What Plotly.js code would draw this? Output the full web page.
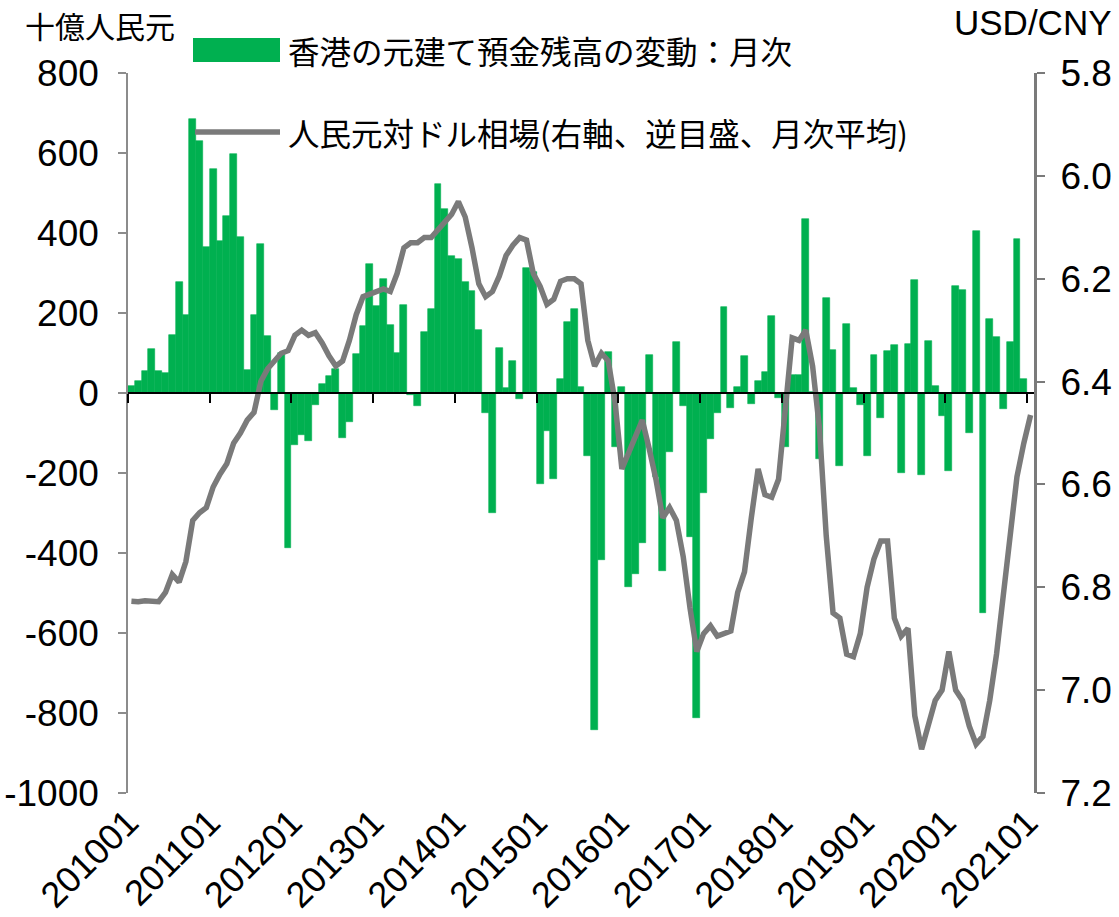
<!DOCTYPE html>
<html>
<head>
<meta charset="utf-8">
<script src="https://cdn.plot.ly/plotly-3.0.1.min.js"></script>
<style>html,body{margin:0;padding:0;background:#fff;}</style>
</head>
<body>
<div id="chart" style="width:1119px;height:917px;"></div>
<script>
// ---- data ----
const months = [
 '201001','201002','201003','201004','201005','201006','201007','201008','201009','201010','201011','201012',
 '201101','201102','201103','201104','201105','201106','201107','201108','201109','201110','201111','201112',
 '201201','201202','201203','201204','201205','201206','201207','201208','201209','201210','201211','201212',
 '201301','201302','201303','201304','201305','201306','201307','201308','201309','201310','201311','201312',
 '201401','201402','201403','201404','201405','201406','201407','201408','201409','201410','201411','201412',
 '201501','201502','201503','201504','201505','201506','201507','201508','201509','201510','201511','201512',
 '201601','201602','201603','201604','201605','201606','201607','201608','201609','201610','201611','201612',
 '201701','201702','201703','201704','201705','201706','201707','201708','201709','201710','201711','201712',
 '201801','201802','201803','201804','201805','201806','201807','201808','201809','201810','201811','201812',
 '201901','201902','201903','201904','201905','201906','201907','201908','201909','201910','201911','201912',
 '202001','202002','202003','202004','202005','202006','202007','202008','202009','202010','202011','202012',
 '202101'
];

// HK yuan deposit change, billion RMB (monthly)
const depositChange = [
  18, 29, 54, 110, 54, 50, 146, 277, 196, 685, 631, 364,
  561, 379, 443, 598, 389, 57, 196, 373, 142, -42, 100, -388,
  -129, -104, -121, -29, 23, 43, 60, -112, -72, 98, 167, 323,
  218, 286, 169, 100, 221, -5, -33, 152, 211, 523, 460, 342,
  335, 277, 256, 158, -50, -300, 112, 12, 81, -15, 312, 302,
  -227, -95, -215, 35, 177, 210, 15, -157, -842, -417, 102, -134,
  14, -486, -452, -374, 96, -210, -446, -147, 127, -33, -360, -812,
  -249, -115, -50, 214, -38, 16, 92, -27, 31, 53, 192, -12,
  -136, 44, 45, 436, 3, -165, 237, 108, -182, 172, 12, -31,
  -158, 96, -62, 105, 120, -200, 123, 283, -206, 130, 18, -57,
  -195, 267, 257, -99, 405, -549, 185, 139, -40, 128, 386, 34,
  null
];

// USD/CNY monthly average (right axis, reversed)
const usdCny = [
  6.827, 6.828, 6.826, 6.826, 6.828, 6.810, 6.775, 6.790, 6.750, 6.670, 6.655, 6.645,
  6.605, 6.580, 6.560, 6.520, 6.500, 6.475, 6.460, 6.400, 6.375, 6.360, 6.345, 6.340,
  6.310, 6.300, 6.310, 6.305, 6.325, 6.350, 6.370, 6.360, 6.320, 6.270, 6.235, 6.230,
  6.225, 6.220, 6.225, 6.190, 6.140, 6.130, 6.130, 6.120, 6.120, 6.105, 6.090, 6.075,
  6.050, 6.080, 6.140, 6.210, 6.235, 6.225, 6.195, 6.155, 6.135, 6.120, 6.125, 6.190,
  6.215, 6.250, 6.240, 6.205, 6.200, 6.200, 6.210, 6.320, 6.370, 6.345, 6.360, 6.440,
  6.570, 6.540, 6.510, 6.475, 6.530, 6.590, 6.665, 6.645, 6.670, 6.740, 6.840, 6.925,
  6.890, 6.875, 6.895, 6.890, 6.885, 6.810, 6.770, 6.665, 6.570, 6.620, 6.625, 6.590,
  6.440, 6.315, 6.320, 6.300, 6.370, 6.490, 6.700, 6.850, 6.860, 6.930, 6.935, 6.890,
  6.800, 6.745, 6.710, 6.710, 6.860, 6.895, 6.880, 7.050, 7.115, 7.070, 7.020, 7.000,
  6.925, 7.000, 7.020, 7.070, 7.105, 7.090, 7.020, 6.930, 6.820, 6.690, 6.585, 6.520,
  6.465
];

const yearTickLabels = ['201001','201101','201201','201301','201401','201501','201601','201701','201801','201901','202001','202101'];
const leftTickVals = [800, 600, 400, 200, 0, -200, -400, -600, -800, -1000];
const leftTickText = ['800', '600', '400', '200', '0', '-200', '-400', '-600', '-800', '-1000'];
const rightTickVals = [5.8, 6.0, 6.2, 6.4, 6.6, 6.8, 7.0, 7.2];
const rightTickText = ['5.8', '6.0', '6.2', '6.4', '6.6', '6.8', '7.0', '7.2'];
const seriesNames = ['香港の元建て預金残高の変動：月次', '人民元対ドル相場(右軸、逆目盛、月次平均)'];
const leftAxisTitle = '十億人民元';
const rightAxisTitle = 'USD/CNY';

// ---- layout helpers ----
const W = 1119, H = 917;
const M = {l: 128, r: 85, t: 73, b: 124};
const PW = W - M.l - M.r, PH = H - M.t - M.b;
const px = x => (x - M.l) / PW;          // pixel -> paper x
const py = y => (H - M.b - y) / PH;      // pixel -> paper y

const xIdx = months.map((m, i) => i);
const yearTickPos = yearTickLabels.map(l => months.indexOf(l) - 0.5);
const xRange = [-0.5, months.length - 0.5];
const leftRange = [-1000, 800];
const zeroPos = (0 - leftRange[0]) / (leftRange[1] - leftRange[0]);

const NUM_FONT = 'Liberation Sans, Arial, sans-serif';
const CJK_FONT = 'Noto Sans CJK JP, sans-serif';
const GREEN = '#00B050';
const GREY = '#7A7A7A';

const traces = [
  {
    type: 'bar', name: seriesNames[0],
    x: xIdx, y: depositChange, text: months, textposition: 'none',
    hovertemplate: '%{text}: %{y}<extra></extra>',
    marker: {color: GREEN, line: {color: GREEN, width: 0.6}},
    xaxis: 'x', yaxis: 'y'
  },
  {
    type: 'scatter', mode: 'lines', name: seriesNames[1],
    x: xIdx, y: usdCny, text: months,
    hovertemplate: '%{text}: %{y}<extra></extra>',
    line: {color: GREY, width: 5.5},
    xaxis: 'x2', yaxis: 'y2'
  }
];

const layout = {
  width: W, height: H,
  margin: M,
  paper_bgcolor: '#fff', plot_bgcolor: 'rgba(0,0,0,0)',
  showlegend: false,
  bargap: 0.0,
  font: {family: NUM_FONT, size: 37, color: '#000'},
  xaxis: {
    range: xRange, tickmode: 'array', tickvals: yearTickPos, ticktext: yearTickLabels,
    tickangle: -45, ticks: '', showline: false, showgrid: false, zeroline: false,
    tickfont: {family: NUM_FONT, size: 36, color: '#000'}, fixedrange: true
  },
  xaxis2: {
    overlaying: 'x', anchor: 'free', position: zeroPos, side: 'bottom',
    range: xRange, tickmode: 'array', tickvals: yearTickPos, showticklabels: false,
    ticks: 'outside', ticklen: 9, tickwidth: 1.5, tickcolor: '#000',
    showline: true, linecolor: '#000', linewidth: 1.5,
    showgrid: false, zeroline: false, fixedrange: true
  },
  yaxis: {
    range: leftRange, tickmode: 'array', tickvals: leftTickVals, ticktext: leftTickText,
    ticks: 'outside', ticklen: 8, tickwidth: 1.5, tickcolor: '#8c8c8c',
    showline: true, linecolor: '#8c8c8c', linewidth: 1.5,
    showgrid: false, zeroline: false, ticklabelstandoff: 12,
    tickfont: {family: NUM_FONT, size: 37, color: '#000'}, fixedrange: true
  },
  yaxis2: {
    overlaying: 'y', side: 'right', anchor: 'x2',
    range: [7.2, 5.8], tickmode: 'array', tickvals: rightTickVals, ticktext: rightTickText,
    ticks: 'outside', ticklen: 8, tickwidth: 2, tickcolor: GREY,
    showline: true, linecolor: GREY, linewidth: 3,
    showgrid: false, zeroline: false, ticklabelstandoff: 8,
    tickfont: {family: NUM_FONT, size: 37, color: '#000'}, fixedrange: true
  },
  shapes: [
    {type: 'rect', xref: 'paper', yref: 'paper', x0: px(193), x1: px(280), y0: py(62), y1: py(38),
     fillcolor: GREEN, line: {width: 0}, layer: 'above'},
    {type: 'line', xref: 'paper', yref: 'paper', x0: px(195), x1: px(280), y0: py(132), y1: py(132),
     line: {color: GREY, width: 5.5}, layer: 'above'}
  ],
  annotations: [
    {text: leftAxisTitle, xref: 'paper', yref: 'paper', x: px(100), y: py(1),
     xanchor: 'center', yanchor: 'top', showarrow: false,
     font: {family: CJK_FONT, size: 30, color: '#000'}},
    {text: rightAxisTitle, xref: 'paper', yref: 'paper', x: px(1033), y: py(22),
     xanchor: 'center', yanchor: 'middle', showarrow: false,
     font: {family: NUM_FONT, size: 35, color: '#000'}},
    {text: seriesNames[0], xref: 'paper', yref: 'paper', x: px(286), y: py(50),
     xanchor: 'left', yanchor: 'middle', showarrow: false,
     font: {family: CJK_FONT, size: 31.5, color: '#000'}},
    {text: seriesNames[1], xref: 'paper', yref: 'paper', x: px(286), y: py(132),
     xanchor: 'left', yanchor: 'middle', showarrow: false,
     font: {family: CJK_FONT, size: 31.5, color: '#000'}}
  ]
};

Plotly.newPlot('chart', traces, layout, {displayModeBar: false, responsive: false});
</script>
</body>
</html>
